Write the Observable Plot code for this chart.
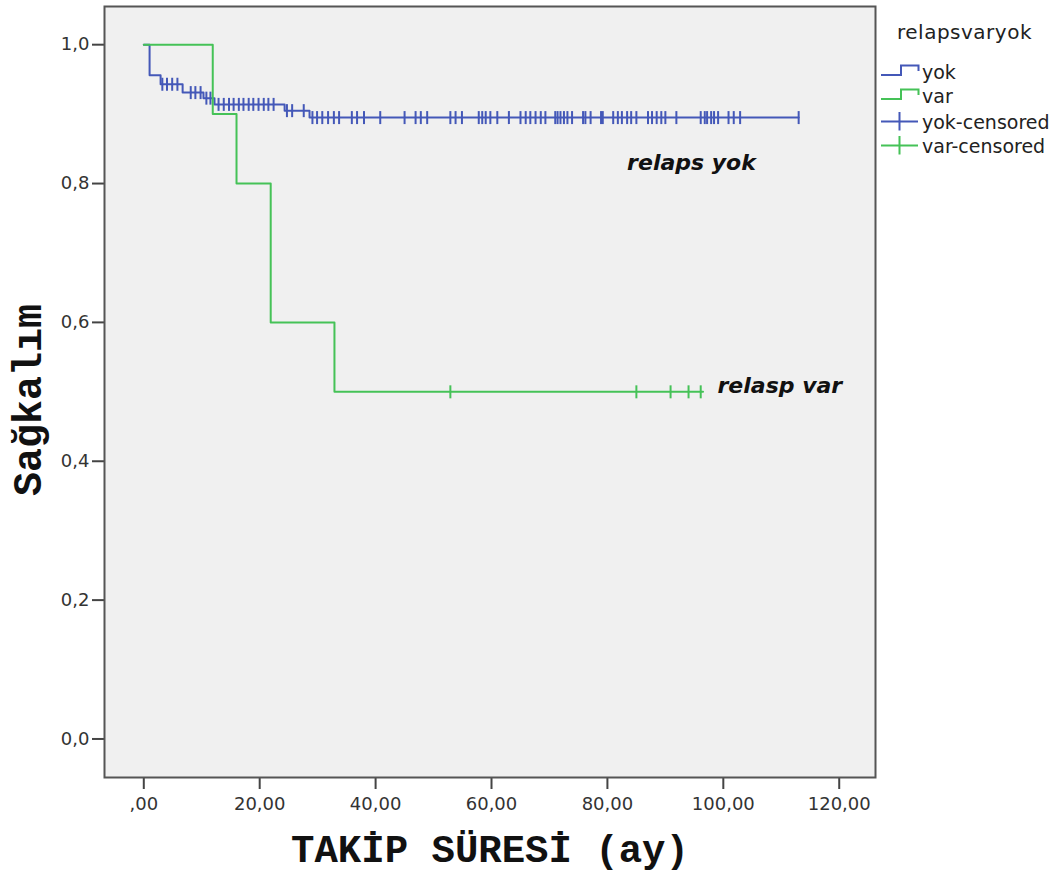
<!DOCTYPE html>
<html>
<head>
<meta charset="utf-8">
<script src="https://cdn.jsdelivr.net/npm/d3@7"></script>
<script src="https://cdn.jsdelivr.net/npm/@observablehq/plot@0.6"></script>
<style>
  body { margin: 0; background: #fff; }
  #wrap { position: relative; width: 1056px; height: 875px; overflow: hidden; }
  #legend { position: absolute; left: 0; top: 0; width: 1056px; height: 200px; pointer-events: none;
            font-family: "DejaVu Sans", Verdana, sans-serif; font-size: 19px; color: #222; }
  #legend .ttl { position: absolute; left: 897px; top: 20px; height: 24px; line-height: 24px; font-size: 20px; letter-spacing: 0.5px; white-space: nowrap; }
  #legend .row { position: absolute; left: 880px; height: 24px; line-height: 24px; display: flex; align-items: flex-start; white-space: nowrap; }
  #legend .row svg { display: block; }
</style>
</head>
<body>
<div id="wrap"><div id="legend"></div></div>
<script>
// ---- data ----
const legendTitle = "relapsvaryok";
const seriesNames = ["yok", "var"];
const seriesColors = ["#4458b8", "#45c257"];

// relaps yok: Kaplan-Meier step points (time, survival)
const yokTimes = [0, 1.0, 2.9, 6.7, 10.3, 12.2, 24.3, 28.6, 113.0];
const yokSurv  = [1.0, 0.956, 0.943, 0.931, 0.923, 0.914, 0.905, 0.895, 0.895];
const yokCensored = [3.2, 4.0, 4.9, 5.8, 8.1, 8.9, 9.8, 10.8, 11.5,
  12.9, 13.8, 14.7, 15.5, 16.4, 17.2, 18.1, 18.9, 19.8, 20.7, 21.5, 22.4,
  24.7, 25.6, 27.6,
  29.1, 29.9, 30.8, 31.8, 32.8, 33.7, 35.9, 36.8, 38.0, 40.8, 45.0, 46.9, 47.8, 48.9,
  52.9, 53.8, 54.9, 57.8, 58.4, 59.0, 59.8, 61.0, 63.0, 65.0, 65.9, 66.7, 67.6, 68.5, 69.3,
  71.0, 71.4, 71.9, 72.5, 73.1, 73.9, 75.8, 76.2, 77.1, 78.9, 79.2, 81.0, 81.8, 82.5, 83.4,
  84.1, 85.0, 87.0, 87.7, 88.5, 89.3, 90.0, 91.9, 96.1, 96.8, 97.2, 97.9, 98.4, 99.1,
  100.9, 101.8, 102.9, 113.0];

// relaps var
const varTimes = [0, 11.9, 16.0, 21.9, 32.9, 96.5];
const varSurv  = [1.0, 0.9, 0.8, 0.6, 0.5, 0.5];
const varCensored = [52.9, 85.0, 90.9, 94.0, 96.1];

// annotations
const annotTexts = ["relaps yok", "relasp var"];
const annotX = [83.4, 99.0];
const annotY = [0.829, 0.509];

// ticks
const xTickValues = [0, 20, 40, 60, 80, 100, 120];
const xTickLabels = [",00", "20,00", "40,00", "60,00", "80,00", "100,00", "120,00"];
const yTickValues = [0, 0.2, 0.4, 0.6, 0.8, 1.0];
const yTickLabels = ["0,0", "0,2", "0,4", "0,6", "0,8", "1,0"];

const xLabel = "TAKİP SÜRESİ (ay)";
const yLabel = "Sağkalım";

// ---- build tables ----
function steps(times, surv, group) {
  return times.map((t, i) => ({t, s: surv[i], group}));
}
function survAt(times, surv, t) {
  let s = surv[0];
  for (let i = 0; i < times.length; i++) if (times[i] <= t) s = surv[i];
  return s;
}
const yokLine = steps(yokTimes, yokSurv, "yok");
const varLine = steps(varTimes, varSurv, "var");
const yokCens = yokCensored.map(t => ({t, s: survAt(yokTimes, yokSurv, t)}));
const varCens = varCensored.map(t => ({t, s: survAt(varTimes, varSurv, t)}));
const annots = annotTexts.map((txt, i) => ({txt, x: annotX[i], y: annotY[i]}));

const vbar = { draw(context, size) { const h = Math.sqrt(size / Math.PI); context.moveTo(0, -h); context.lineTo(0, h); } };

const tickFont = "'DejaVu Sans', Verdana, sans-serif";

const chart = Plot.plot({
  width: 1056,
  height: 875,
  marginLeft: 104,
  marginRight: 181,
  marginTop: 6,
  marginBottom: 98,
  style: { background: "transparent", fontFamily: tickFont, fontSize: "18px", color: "#333", overflow: "visible" },
  x: { domain: [-6.78, 126.26] },
  y: { domain: [-0.0555, 1.055] },
  marks: [
    Plot.frame({ fill: "#f0f0f0", stroke: null }),
    Plot.axisX(xTickValues, { tickFormat: d => xTickLabels[xTickValues.indexOf(d)], tickSize: 12, tickPadding: 8, label: null, stroke: "#444", strokeWidth: 2, fill: "#333", fontSize: 18, fontFamily: tickFont }),
    Plot.axisY(yTickValues, { tickFormat: d => yTickLabels[yTickValues.indexOf(d)], tickSize: 12, tickPadding: 3, label: null, stroke: "#444", strokeWidth: 2, fill: "#333", fontSize: 18, fontFamily: tickFont }),
    Plot.line(yokLine, { x: "t", y: "s", curve: "step-after", stroke: seriesColors[0], strokeWidth: 2 }),
    Plot.dot(yokCens, { x: "t", y: "s", symbol: vbar, r: 6.5, stroke: seriesColors[0], strokeWidth: 2 }),
    Plot.line(varLine, { x: "t", y: "s", curve: "step-after", stroke: seriesColors[1], strokeWidth: 2 }),
    Plot.dot(varCens, { x: "t", y: "s", symbol: vbar, r: 6.5, stroke: seriesColors[1], strokeWidth: 2 }),
    Plot.text(annots, { x: "x", y: "y", text: "txt", textAnchor: "start", lineAnchor: "middle", fontFamily: "'DejaVu Sans', Verdana, sans-serif", fontWeight: "bold", fontStyle: "italic", fontSize: 22, fill: "#111" }),
    Plot.frame({ stroke: "#555", strokeWidth: 2 }),
    Plot.text([xLabel], { frameAnchor: "bottom", dy: 84, lineAnchor: "bottom", textAnchor: "middle", fontFamily: "'Liberation Mono', 'DejaVu Sans Mono', monospace", fontWeight: "bold", fontSize: 39, fill: "#111" }),
    Plot.text([yLabel], { frameAnchor: "left", dx: -64, dy: 8, rotate: -90, lineAnchor: "bottom", textAnchor: "middle", fontFamily: "'Liberation Mono', 'DejaVu Sans Mono', monospace", fontWeight: "bold", fontSize: 40, fill: "#111" })
  ]
});
document.getElementById("wrap").prepend(chart);

// ---- legend (SPSS style, right of the frame) ----
const legend = document.getElementById("legend");
const ttl = document.createElement("div");
ttl.className = "ttl";
ttl.textContent = legendTitle;
legend.appendChild(ttl);
const rowTops = [59.5, 83.5, 109.5, 133.5];
const items = [
  { name: seriesNames[0], color: seriesColors[0], kind: "step" },
  { name: seriesNames[1], color: seriesColors[1], kind: "step" },
  { name: seriesNames[0] + "-censored", color: seriesColors[0], kind: "cens" },
  { name: seriesNames[1] + "-censored", color: seriesColors[1], kind: "cens" }
];
items.forEach((it, i) => {
  const row = document.createElement("div");
  row.className = "row";
  row.style.top = rowTops[i] + "px";
  const path = it.kind === "step"
    ? "M1,15H21V5.5H38.5V11"
    : "M1,11.5H38M19.5,2V20.5";
  row.innerHTML = `<svg width="42" height="24"><path d="${path}" fill="none" stroke="${it.color}" stroke-width="2"/></svg><span>${it.name}</span>`;
  legend.appendChild(row);
});
</script>
</body>
</html>
